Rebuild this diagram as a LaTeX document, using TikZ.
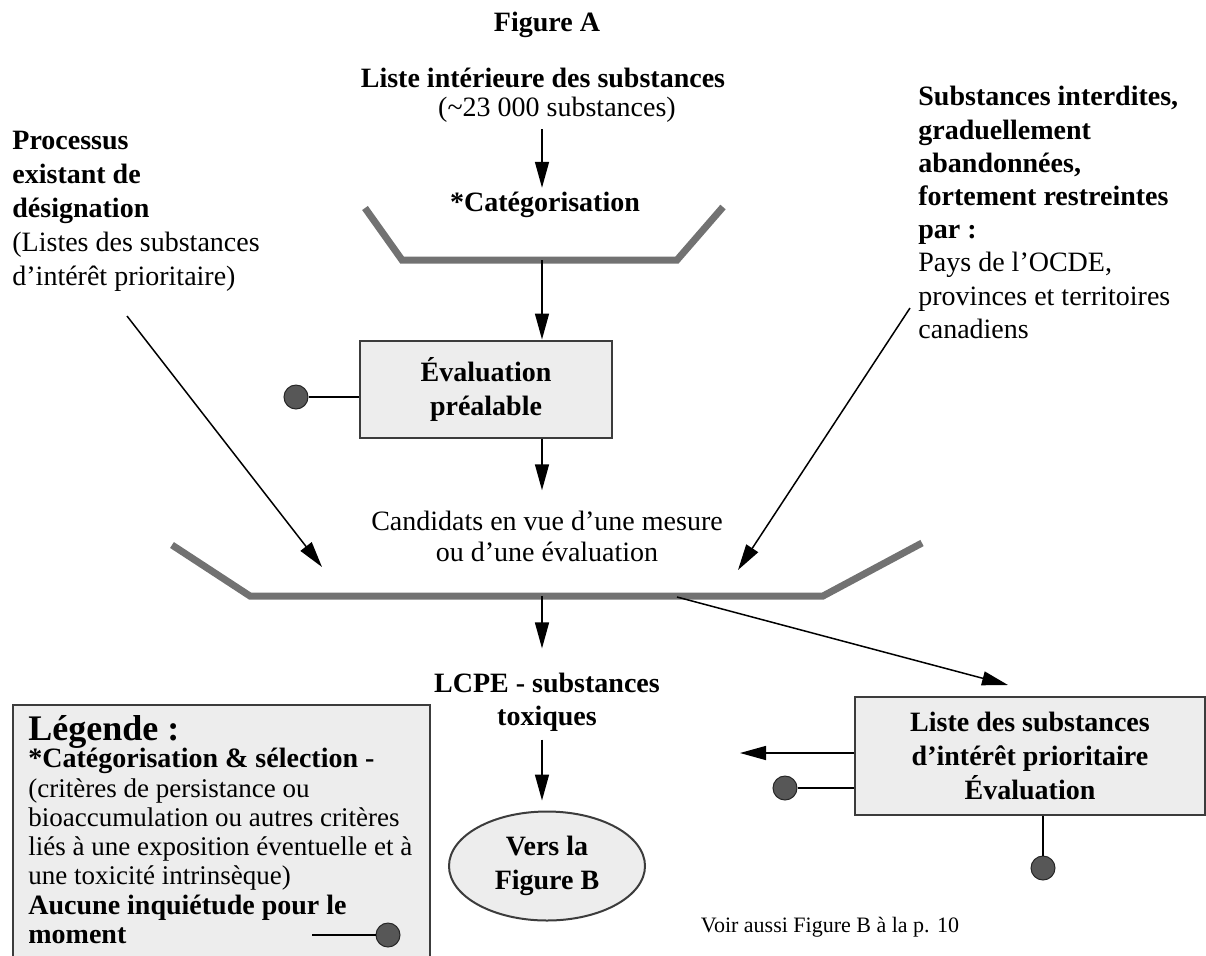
\documentclass[tikz,border=0pt]{standalone}
\usepackage{fontspec}
\setmainfont{Liberation Serif}
\usetikzlibrary{arrows.meta,shapes.geometric}
\definecolor{traygray}{HTML}{727272}
\definecolor{boxgray}{HTML}{EDEDED}
\definecolor{linegray}{HTML}{3C3C3C}
\definecolor{dotgray}{HTML}{575757}
\tikzset{
	fleche/.style={-{Triangle[length=13pt,width=7pt]},line width=0.75pt},
	bac/.style={draw=traygray,line width=3.5pt},
	boite/.style={draw=linegray,fill=boxgray,line width=1pt,align=center,font=\fontsize{14}{17}\selectfont\bfseries},
	pastille/.style={circle,draw=black!85,fill=dotgray,line width=0.5pt,inner sep=0pt,minimum size=12pt},
	texte/.style={inner sep=0pt,align=center,font=\fontsize{14}{16}\selectfont},
	tige/.style={line width=0.75pt}
}
\begin{document}
\begin{tikzpicture}[x=0.5pt,y=-0.5pt]
	\useasboundingbox (0,0) rectangle (1206,955);
	\node[texte,font=\fontsize{14}{16}\selectfont\bfseries] (figA) at (547,25) {Figure A};
	\node[texte,font=\fontsize{14}{16}\selectfont\bfseries] (liste) at (543,78) {Liste intérieure des substances};
	\node[texte] (nb) at (557,110) {(\textasciitilde23 000 substances)};
	\node[texte,font=\fontsize{14}{16}\selectfont\bfseries] (cat) at (545,205) {*Catégorisation};
	\node[texte,anchor=north west,align=left,font=\fontsize{14}{17}\selectfont] (processus) at (12,131) {\textbf{Processus}\\\textbf{existant de}\\\textbf{désignation}\\(Listes des substances\\d’intérêt prioritaire)};
	\node[texte,anchor=north west,align=left,font=\fontsize{14}{16.6}\selectfont] (interdites) at (918,86) {\textbf{Substances interdites,}\\\textbf{graduellement}\\\textbf{abandonnées,}\\\textbf{fortement restreintes}\\\textbf{par :}\\Pays de l’OCDE,\\provinces et territoires\\canadiens};
	\node[boite,minimum width=126pt,minimum height=48.5pt] (eval) at (486,389) {Évaluation\\préalable};
	\node[texte,font=\fontsize{14}{15.5}\selectfont] (cand) at (547,536) {Candidats en vue d’une mesure\\ou d’une évaluation};
	\node[texte,font=\fontsize{14}{16.5}\selectfont\bfseries] (lcpe) at (547,702) {LCPE - substances\\toxiques};
	\node[boite,ellipse,minimum width=98pt,minimum height=54.5pt] (vers) at (547,866) {Vers la\\Figure B};
	\node[boite,minimum width=175pt,minimum height=59pt] (prio) at (1030,756) {Liste des substances\\d’intérêt prioritaire\\Évaluation};
	\node[texte,font=\fontsize{11}{13}\selectfont] (voir) at (830,927) {Voir aussi Figure B à la p. 10};
	\coordinate (c1) at (542,260);
	\coordinate (c2) at (542,596);
	\coordinate (c3) at (677,597);
	\coordinate (prioin) at (1008,685);
	\coordinate (prioout) at (740,753);
	\coordinate (pin) at (127,316);
	\coordinate (pout) at (322,567);
	\coordinate (iin) at (910,308);
	\coordinate (iout) at (738,570);
	\draw[bac] (365,208) -- (402,260) -- (677,260) -- (723,207);
	\draw[bac] (172,545) -- (250,596) -- (823,596) -- (922,543);
	\draw[fleche,shorten <=3pt,shorten >=2pt] (nb.south -| c1) -- (cat.north -| c1);
	\draw[fleche] (c1) -- (eval.north -| c1);
	\draw[fleche,shorten >=10pt] (eval.south -| c1) -- (cand.north -| c1);
	\draw[fleche] (pin) -- (pout);
	\draw[fleche] (iin) -- (iout);
	\draw[fleche,shorten >=12pt] (c2) -- (lcpe.north -| c2);
	\draw[fleche,shorten <=4pt,shorten >=5pt] (lcpe.south -| c2) -- (vers.north -| c2);
	\draw[fleche] (c3) -- (prioin);
	\draw[fleche] (prioout -| prio.west) -- (prioout);
	\node[pastille] (d1) at (296,397) {};
	\draw[tige] (d1) -- (d1 -| eval.west);
	\node[pastille] (d2) at (785,788) {};
	\draw[tige] (d2) -- (d2 -| prio.west);
	\node[pastille] (d3) at (1043,868) {};
	\draw[tige] (d3) -- (d3 |- prio.south);
	\draw[draw=linegray,fill=boxgray,line width=1pt] (13,705) rectangle (430,975);
	\node[texte,anchor=base west,font=\fontsize{18}{20}\selectfont\bfseries] (legende) at (28,740) {Légende :};
	\node[texte,anchor=base west,font=\fontsize{14}{15}\selectfont\bfseries] (selection) at (28,767) {*Catégorisation \& sélection -};
	\node[texte,anchor=north west,align=left,font=\fontsize{13.5}{14.5}\selectfont] (criteres) at (28,778) {(critères de persistance ou\\bioaccumulation ou autres critères\\liés à une exposition éventuelle et à\\une toxicité intrinsèque)};
	\node[texte,anchor=north west,align=left,font=\fontsize{14}{14.5}\selectfont\bfseries] (aucune) at (28,895) {Aucune inquiétude pour le\\moment};
	\node[pastille] (d4) at (388,935) {};
	\coordinate (lg) at (312,935);
	\draw[tige] (lg) -- (d4);
\end{tikzpicture}
\end{document}
